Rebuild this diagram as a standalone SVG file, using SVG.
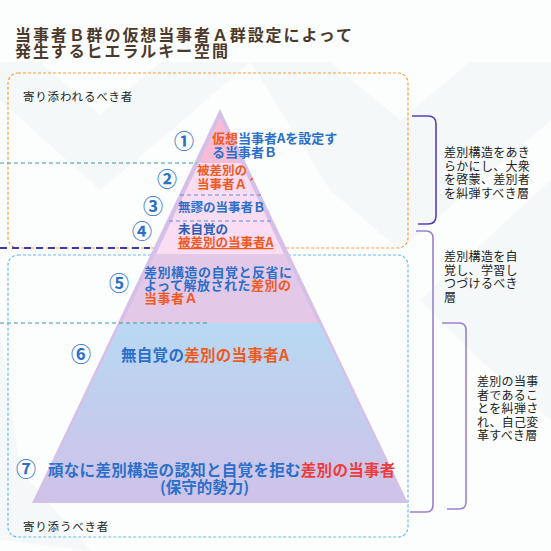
<svg xmlns="http://www.w3.org/2000/svg" width="551" height="551" viewBox="0 0 551 551">
<defs>
<style>
text{font-family:"Noto Sans CJK JP","Noto Sans",sans-serif}
.title{font-size:16px;font-weight:bold;fill:#4b3a2c;letter-spacing:1.9px}
.lbl{font-size:11.5px;fill:#222;letter-spacing:0.8px}
.side{font-size:12px;fill:#222;letter-spacing:0.3px}
.num{font-size:20px;font-weight:bold;fill:#2a6fc9;text-anchor:middle}
.b{font-weight:bold;fill:#2a6fc9}
.o{fill:#ee5a1e}
.r{fill:#f03a3a}
.teal{stroke:#3a9a9a;stroke-width:1;stroke-dasharray:4 3;fill:none}
.inner{stroke:#5b8fd6;stroke-width:1;stroke-dasharray:4 3;fill:none}
.br1{stroke:#5a3fb8;stroke-width:1.6;fill:none}
.br2{stroke:#9a80d2;stroke-width:1.6;fill:none}
</style>
<linearGradient id="g6" x1="0" y1="0" x2="0" y2="1">
<stop offset="0" stop-color="#b8d9f3"/>
<stop offset="0.5" stop-color="#c3cdee"/>
<stop offset="1" stop-color="#d0c2e8"/>
</linearGradient>
</defs>
<rect width="551" height="551" fill="#fcfdfd"/>
<g id="bg" fill="#f5f8f8">
<polygon points="0,62 40,62 100,115 160,62 250,62 160,140 100,190 0,100"/>
<polygon points="250,62 330,62 400,120 470,62 551,62 551,120 470,190 400,250 330,190"/>
<polygon points="420,300 551,180 551,420 480,360"/>
<polygon points="0,330 0,540 90,551 20,470"/>
</g>
<g id="title">
<text class="title" x="15" y="41">当事者Ｂ群の仮想当事者Ａ群設定によって<tspan x="15" dy="16">発生するヒエラルキー空間</tspan></text>
</g>
<g id="zone-upper">
<rect x="8" y="73" width="400" height="175" rx="10" fill="none" stroke="#f5a03c" stroke-width="1.2" stroke-dasharray="3 2"/>
<text class="lbl" x="23" y="101">寄り添われるべき者</text>
</g>
<g id="zone-lower">
<rect x="8" y="255" width="400" height="282" rx="10" fill="none" stroke="#6ab8f5" stroke-width="1.2" stroke-dasharray="3 2"/>
<text class="lbl" x="23" y="531">寄り添うべき者</text>
</g>
<g id="pyramid">
<polygon points="220,109 32,503 408,503" fill="#d6c0e8"/>
<polygon points="220,118 199,163 241,163" fill="#f8bcd6"/>
<polygon points="199,163 241,163 284,254 156,254" fill="#fadcf3"/>
<polygon points="155,254 285,254 318,323 122,323" fill="#e3c8e8"/>
<polygon points="121,323 319,323 405,502 35,502" fill="url(#g6)"/>
</g>
<g id="connectors">
<line class="teal" x1="0" y1="163" x2="197" y2="163"/>
<line class="teal" x1="0" y1="323" x2="207" y2="323"/>
<line x1="0" y1="248" x2="150" y2="248" stroke="#3a3aa8" stroke-width="2" stroke-dasharray="7 5"/>
<line class="inner" x1="180" y1="195" x2="262" y2="195"/>
<line class="inner" x1="169" y1="221" x2="271" y2="221"/>
</g>
<g id="layer1">
<text class="num" x="184" y="149">①</text>
<text class="b" font-size="13" x="212" y="143"><tspan class="o">仮想</tspan>当事者Aを設定す<tspan x="212" dy="14">る当事者Ｂ</tspan></text>
</g>
<g id="layer2">
<text class="num" x="167" y="187">②</text>
<text class="b o" font-size="12.5" x="197" y="175">被差別の<tspan x="197" dy="14">当事者Ａ´</tspan></text>
</g>
<g id="layer3">
<text class="num" x="153" y="214">③</text>
<text class="b" font-size="12.5" x="178" y="212">無謬の当事者Ｂ</text>
</g>
<g id="layer4">
<text class="num" x="142" y="239">④</text>
<text class="b" font-size="12.5" x="178" y="234" style="fill:#2f5fb5">未自覚の<tspan class="o" x="178" dy="13" text-decoration="underline">被差別の当事者A</tspan></text>
</g>
<g id="layer5">
<text class="num" x="119" y="291">⑤</text>
<text class="b" font-size="13" letter-spacing="0.5" x="144" y="277">差別構造の自覚と反省に<tspan x="144" dy="13">よって解放された</tspan><tspan class="o">差別の</tspan><tspan class="o" x="144" dy="13">当事者Ａ</tspan></text>
</g>
<g id="layer6">
<text class="num" x="81" y="362">⑥</text>
<text class="b" font-size="15.5" letter-spacing="0.3" x="121" y="361">無自覚の<tspan class="o">差別の当事者A</tspan></text>
</g>
<g id="layer7">
<text class="num" x="26" y="477">⑦</text>
<text class="b" font-size="15.5" letter-spacing="0.3" x="48" y="476">頑なに差別構造の認知と自覚を拒む<tspan class="r">差別の当事者</tspan><tspan x="160" dy="17" letter-spacing="0">(保守的勢力)</tspan></text>
</g>
<g id="brackets">
<path class="br1" d="M412 116 H428 Q436 116 436 124 V216 Q436 224 428 224 H418"/>
<path class="br2" d="M416 231 H426 Q433 231 433 238 V505 Q433 512 426 512 H410"/>
<path class="br2" d="M442 323 H459 Q466 323 466 330 V502 Q466 509 459 509 H447"/>
</g>
<g id="side1">
<text class="side" x="444" y="157">差別構造をあき<tspan x="444" dy="13.5">らかにし、大衆</tspan><tspan x="444" dy="13.5">を啓蒙、差別者</tspan><tspan x="444" dy="13.5">を糾弾すべき層</tspan></text>
</g>
<g id="side2">
<text class="side" x="444" y="261">差別構造を自<tspan x="444" dy="13.5">覚し、学習し</tspan><tspan x="444" dy="13.5">つづけるべき</tspan><tspan x="444" dy="13.5">層</tspan></text>
</g>
<g id="side3">
<text class="side" x="477" y="386">差別の当事<tspan x="477" dy="13.5">者であるこ</tspan><tspan x="477" dy="13.5">とを糾弾さ</tspan><tspan x="477" dy="13.5">れ、自己変</tspan><tspan x="477" dy="13.5">革すべき層</tspan></text>
</g>
</svg>
